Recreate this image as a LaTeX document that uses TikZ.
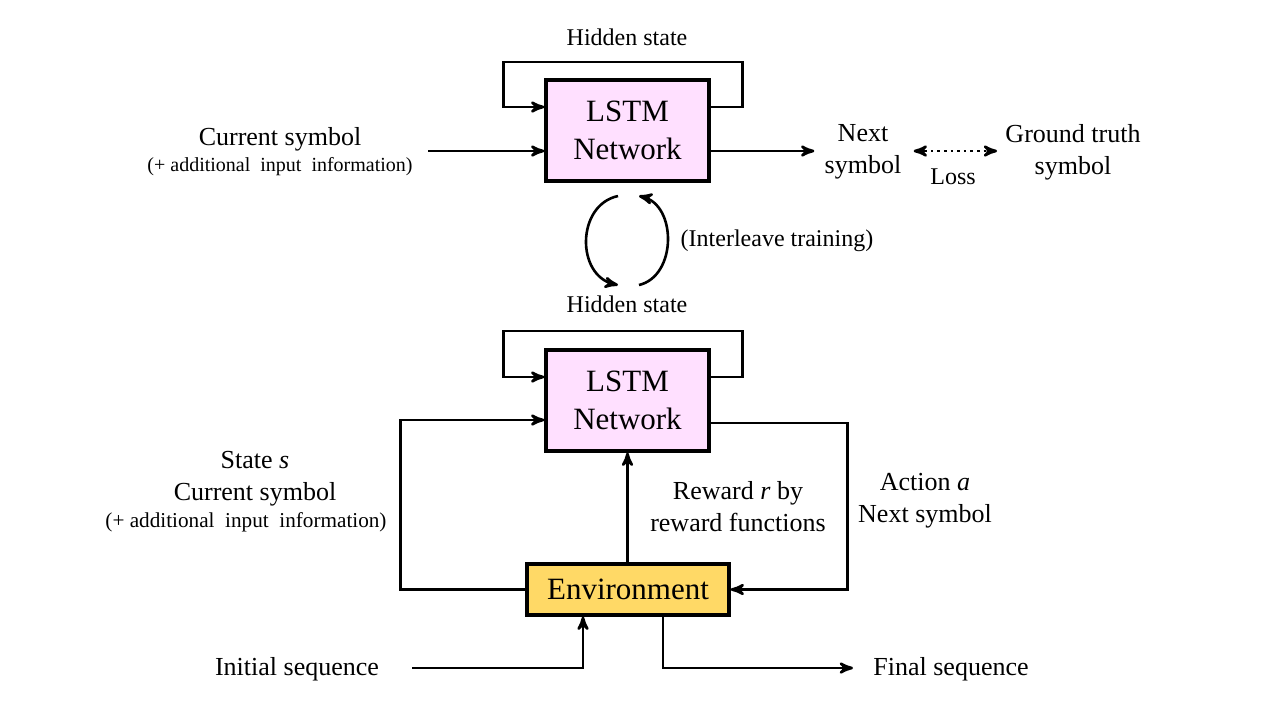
\documentclass[tikz,border=0pt]{standalone}
\usepackage{fontspec}
\setmainfont{Liberation Serif}
\usepackage{xcolor}
\usepackage{tikz}
\usetikzlibrary{arrows,positioning}
\tikzset{>=stealth'}
\definecolor{lstmpink}{RGB}{255,224,255}
\definecolor{envgold}{RGB}{255,217,102}
\newcommand{\smalltxt}{\fontsize{10}{12}\selectfont}
\newcommand{\maintxt}{\fontsize{13}{16}\selectfont}

\begin{document}
\begin{tikzpicture}[x=0.5pt, y=-0.5pt,
                    netbox/.style={draw, line width=1.6pt, fill=lstmpink, minimum width=81.5pt,
                                   minimum height=50.5pt, align=center, font=\fontsize{15.5}{19}\selectfont},
                    envbox/.style={draw, line width=1.6pt, fill=envgold, minimum width=101pt,
                                   minimum height=25.5pt, font=\fontsize{15.5}{19}\selectfont},
                    lbl/.style={align=center, font=\maintxt, inner sep=5pt},
                    midlbl/.style={align=center, font=\fontsize{12}{14}\selectfont},
                    sublbl/.style={align=center, font=\smalltxt},
                    arr/.style={line width=1.3pt, ->},
                    loss/.style={line width=1.3pt, dotted, <->},
                   ]

\useasboundingbox (0,0) rectangle (1280,720);

% top: supervised part
\node[netbox] (lstm1) at (627.5,130.5) {LSTM\\Network};
\node[midlbl] (hid1) at (627,37) {Hidden state};
\node[lbl] (cur1) at (280,139) {Current symbol};
\node[sublbl] (add1) at (280,167) {(+ additional \ input \ information)};
\node[lbl] (next1) at (863,152) {Next\\symbol};
\node[lbl] (gt1) at (1073,152) {Ground truth\\symbol};
\node[midlbl] (loss1) at (953,177) {Loss};
\coordinate (in1) at (428,151);

\draw[arr] ([yshift=11.75pt]lstm1.east) -- ++(32,0) -- ++(0,-45) -- ++(-239,0) -- ++(0,45)
           -- ([yshift=11.75pt]lstm1.west);
\draw[arr] (in1) -- (in1 -| lstm1.west);
\draw[arr] (lstm1.east |- in1) -- (next1.west |- in1);
\draw[loss] ([xshift=1pt]next1.east |- in1) -- ([xshift=1pt]gt1.west |- in1);

% interleave
\coordinate (il1) at (618,196);
\coordinate (il2) at (618,285);
\coordinate (il3) at (639,285);
\coordinate (il4) at (639,196);
\draw[arr] (il1) .. controls (576,205) and (576,276) .. (il2);
\draw[arr] (il3) .. controls (677,276) and (677,205) .. (il4);
\node[midlbl] (inter) at (777,241) {(Interleave training)};

% bottom: reinforcement part
\node[netbox] (lstm2) at (627.5,400.5) {LSTM\\Network};
\node[midlbl] (hid2) at (627,304) {Hidden state};
\node[envbox] (env) at (628,589.5) {Environment};
\node[lbl] (state) at (255,479) {State \textit{s}\\Current symbol};
\node[sublbl, font=\fontsize{10.6}{12}\selectfont] (add2) at (246,522) {(+ additional \ input \ information)};
\node[lbl] (rew) at (738,507) {Reward \textit{r} by\\reward functions};
\node[lbl] (act) at (925,501) {Action \textit{a}\\Next symbol};
\node[lbl] (init) at (297,669) {Initial sequence};
\node[lbl] (fin) at (951,669) {Final sequence};
\coordinate (initst) at (412,668);
\coordinate (finend) at (853,668);

\draw[arr] ([yshift=11.75pt]lstm2.east) -- ++(32,0) -- ++(0,-46) -- ++(-239,0) -- ++(0,46)
           -- ([yshift=11.75pt]lstm2.west);
\draw[arr] (env.west) -- ++(-125,0) |- ([yshift=-9.75pt]lstm2.west);
\draw[arr] ([yshift=-11.25pt]lstm2.east) -- ++(137,0) |- (env.east);
\draw[arr] (env.north -| lstm2.south) -- (lstm2.south);
\draw[arr] (initst) -| ([xshift=-22.5pt]env.south);
\draw[arr] ([xshift=17.5pt]env.south) |- (finend);

\end{tikzpicture}
\end{document}
